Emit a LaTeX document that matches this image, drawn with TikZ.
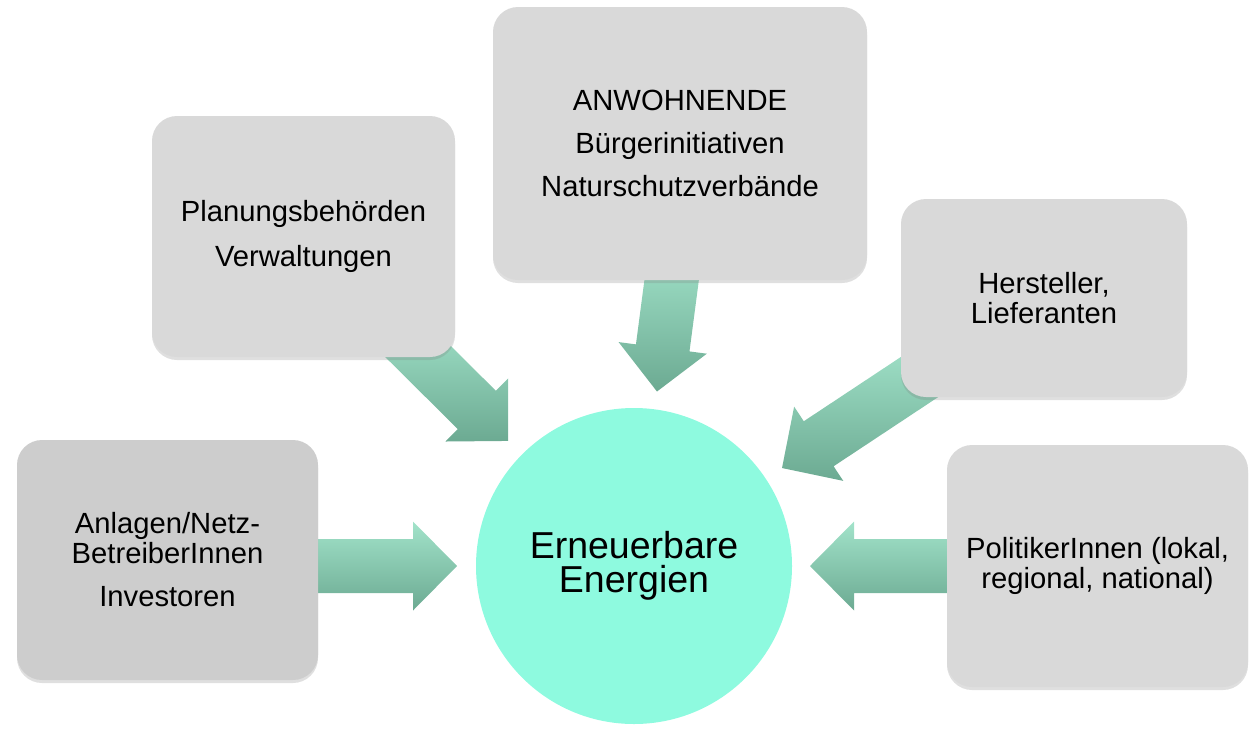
\documentclass[tikz,border=0pt]{standalone}
\usepackage{fontspec}
\setmainfont{Liberation Sans}
\usetikzlibrary{calc,shadows,backgrounds}
\definecolor{boxgray}{HTML}{D9D9D9}
\definecolor{leftgray}{HTML}{CDCDCD}
\definecolor{circfill}{HTML}{8EFADF}
\definecolor{arrtop}{HTML}{A2E3CA}
\definecolor{arrbot}{HTML}{6CAA92}
\tikzset{
  box/.style={rectangle, rounded corners=25pt, fill=boxgray, inner sep=0pt, align=center,
    font=\fontsize{29.2}{30}\selectfont,
    drop shadow={shadow xshift=0pt, shadow yshift=-3pt, opacity=0.25}},
  arrowshade/.style={top color=arrtop, bottom color=arrbot, draw=none},
  hub/.style={circle, fill=circfill, inner sep=0pt, minimum size=316pt, align=center,
    font=\fontsize{37.5}{34}\selectfont}
}
\newcommand{\blockarrow}[2]{%
  \path coordinate (bh) at ($(#2)!44pt!(#1)$);
  \shade[arrowshade] ($(#1)!27pt!90:(#2)$) -- ($(bh)!27pt!90:(#2)$) -- ($(bh)!44.5pt!90:(#2)$)
    -- (#2) -- ($(bh)!44.5pt!-90:(#2)$) -- ($(bh)!27pt!-90:(#2)$) -- ($(#1)!27pt!-90:(#2)$) -- cycle;
}
\begin{document}
\begin{tikzpicture}[x=1pt, y=-1pt]
  \useasboundingbox (0,0) rectangle (1249,728);
  \node[hub] (hub) at (634,566) {Erneuerbare\\Energien};

  \node[box, fill=leftgray, minimum width=301pt, minimum height=240pt] (anl) at (167.5,560)
    {Anlagen/Netz-\\BetreiberInnen\\[13pt]Investoren};
  \node[box, minimum width=303pt, minimum height=241pt] (plan) at (303.5,236.5)
    {Planungsbehörden\\[15pt]Verwaltungen};
  \node[box, minimum width=374pt, minimum height=273pt] (anw) at (680,143.5)
    {ANWOHNENDE\\[13pt]Bürgerinitiativen\\[13pt]Naturschutzverbände};
  \node[box, minimum width=286pt, minimum height=198pt] (her) at (1044,298)
    {Hersteller,\\Lieferanten};
  \node[box, minimum width=301pt, minimum height=242pt] (pol) at (1097.5,566)
    {PolitikerInnen (lokal,\\regional, national)};

  % arrow tails (hidden under the boxes) and tips (near the hub)
  \coordinate (tA) at ($(hub.center)+(180:340pt)$);
  \coordinate (pA) at ($(hub.center)+(180:177pt)$);
  \coordinate (tP) at ($(hub.center)+(135.2:330pt)$);
  \coordinate (pP) at ($(hub.center)+(135.2:177.5pt)$);
  \coordinate (tW) at ($(hub.center)+(82.5:320pt)$);
  \coordinate (pW) at ($(hub.center)+(82.5:176pt)$);
  \coordinate (tH) at ($(hub.center)+(33.5:370pt)$);
  \coordinate (pH) at ($(hub.center)+(33.5:177.5pt)$);
  \coordinate (tL) at ($(hub.center)+(0:340pt)$);
  \coordinate (pL) at ($(hub.center)+(0:176pt)$);

  \begin{pgfonlayer}{background}
    \blockarrow{tA}{pA}
    \blockarrow{tP}{pP}
    \blockarrow{tW}{pW}
    \blockarrow{tH}{pH}
    \blockarrow{tL}{pL}
  \end{pgfonlayer}
\end{tikzpicture}
\end{document}
